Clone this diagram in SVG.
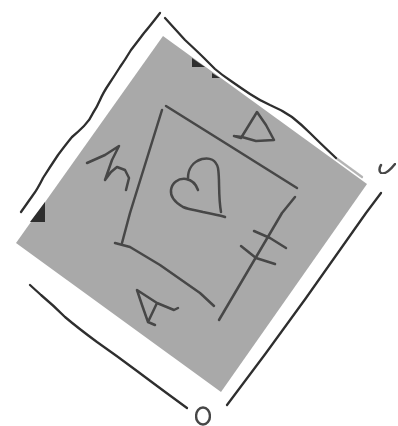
<svg xmlns="http://www.w3.org/2000/svg" width="398" height="426" viewBox="0 0 398 426">
<defs><filter id="soft" x="-5%" y="-5%" width="110%" height="110%"><feGaussianBlur stdDeviation="0.5"/></filter></defs>
<style>
.ink{fill:none;stroke:#474747;stroke-width:2.5;stroke-linecap:round;stroke-linejoin:round}
.outer{fill:none;stroke:#2e2e2e;stroke-width:2.3;stroke-linecap:round;stroke-linejoin:round}
.corner{fill:#2e2e2e}
</style>
<rect width="398" height="426" fill="#fff"/>
<g id="sheet" filter="url(#soft)">
<polygon points="163,36 367,184 221,392 16,243" fill="#a9a9a9"/>
<polygon class="corner" points="192,58 192,67 205,67"/>
<polygon class="corner" points="212,73 212,78 220,78"/>
<polygon class="corner" points="45,202 45,222 30,222"/>
</g>
<g id="connectors" filter="url(#soft)">
<path class="outer" d="M160,13 Q150,26 144,33 Q138,41 131,50 Q125,60 120,67 Q115,75 109,84 Q103,93 100,100 Q97,107 93,113 Q90,120 84,126 Q78,132 72,137 Q67,143 58,155 Q50,167 43,178 Q37,190 33,195 L21,212"/>
<path class="outer" d="M165,18 L185,40 Q199,53 204,58 Q209,63 215,69 Q222,75 231,81 Q241,88 250,94 Q259,100 270,105 Q282,110 292,117 Q302,125 310,133 Q319,142 336,158"/>
<path class="outer" d="M336,158 L362,177" stroke-opacity="0.35"/>
<path class="outer" d="M30,285 L41,295 Q53,305 65,317 Q78,328 97,342 Q117,356 137,371 Q157,386 172,397 L187,408"/>
<path class="outer" d="M227,405 L266,353 L306,298 L366,213 L381,193"/>
</g>
<g id="square" filter="url(#soft)">
<path class="ink" d="M166,106 L230,146 L297,188"/>
<path class="ink" d="M162,110 L130,213 L122,243"/>
<path class="ink" d="M115,243 L130,247 L160,265 L200,293 L214,306"/>
<path class="ink" d="M295,197 L282,213 L219,320"/>
<path class="ink" d="M254,231 L270,238 L286,248"/>
<path class="ink" d="M241,246 L256,258 L275,264"/>
</g>
<g id="mark-h" filter="url(#soft)">
<path class="ink" d="M87,163 L105,155 L119,146 L112,160 L105,180 L111,172 L117,167 L125,170 L129,178 L126,190"/>
</g>
<g id="mark-top" filter="url(#soft)">
<path class="ink" d="M234,136 L241,138 L257,112 L266,125 L274,140 L256,141 L242,137 L234,136"/>
</g>
<g id="mark-bottom" filter="url(#soft)">
<path class="ink" d="M178,308 L174,310 L157,303 L137,290 L142,305 L148,322 L157,303 M148,322 L155,325"/>
</g>
<g id="heart" filter="url(#soft)">
<path class="ink" d="M198,190 C196,184 192,180 186,179 C178,178 172,183 171,190 C170,198 176,203 183,207 C190,210 196,210 203,212 C212,214 219,215 225,217"/>
<path class="ink" d="M188,178 C188,170 192,162 202,159 C210,157 216,160 218,168 C220,180 218,195 221,212"/>
</g>
<g id="mark-c" filter="url(#soft)">
<path class="ink" d="M381,165 C379,168 379,172 381,173 C385,175 391,169 395,164"/>
</g>
<g id="mark-o" filter="url(#soft)">
<ellipse class="ink" cx="203" cy="416" rx="7" ry="8.5"/>
</g>
</svg>
